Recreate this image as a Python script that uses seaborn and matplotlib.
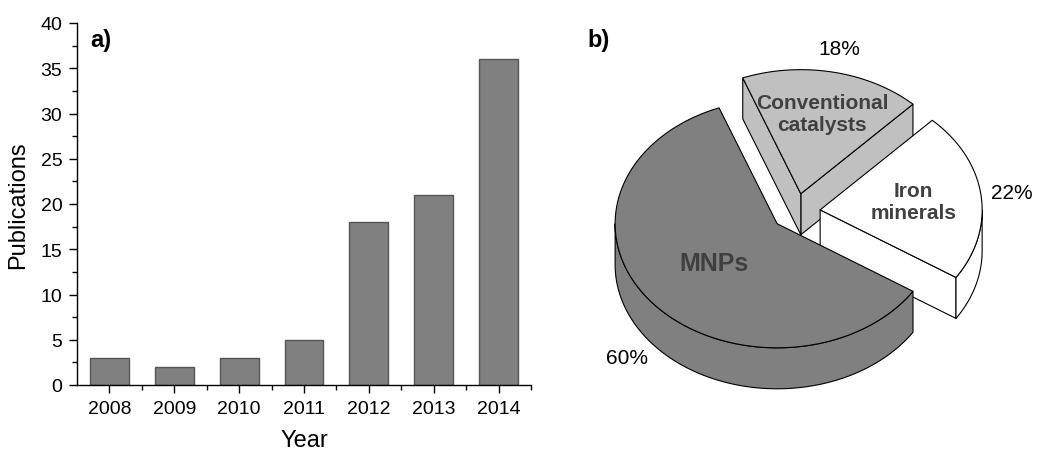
import numpy as np
import matplotlib
matplotlib.use("Agg")
import matplotlib.pyplot as plt
from matplotlib.patches import Polygon
from matplotlib.ticker import MultipleLocator, FixedLocator
import seaborn as sns

# Publications per year
years = ["2008", "2009", "2010", "2011", "2012", "2013", "2014"]
publications = [3, 2, 3, 5, 18, 21, 36]

# Catalyst types studied (share of publications, %)
pie_labels = ["MNPs", "Iron\nminerals", "Conventional\ncatalysts"]
pie_shares = [60, 22, 18]
pie_colors = ["#808080", "#ffffff", "#c0c0c0"]
label_radius = [0.5, 0.58, 0.66]

sns.set_style("ticks")
plt.rcParams["font.family"] = ["Liberation Sans", "DejaVu Sans"]
plt.rcParams["text.color"] = "black"
plt.rcParams["axes.labelcolor"] = "black"

W, H = 1038, 452
fig = plt.figure(figsize=(W / 100, H / 100), dpi=100)

# ---------- a) bar chart ----------
ax1 = fig.add_axes([77 / W, 66 / H, (531 - 77) / W, (386 - 24) / H])
sns.barplot(x=years, y=publications, color="#808080", saturation=1,
            width=0.6, edgecolor="#555555", linewidth=1.0, ax=ax1)
ax1.set_xlim(-0.5, len(years) - 0.5)
ax1.set_ylim(0, 40)
ax1.yaxis.set_major_locator(MultipleLocator(5))
ax1.yaxis.set_minor_locator(MultipleLocator(2.5))
ax1.xaxis.set_minor_locator(FixedLocator(np.arange(0.5, len(years), 1.0)))
for s in ["top", "right"]:
    ax1.spines[s].set_visible(False)
for s in ["left", "bottom"]:
    ax1.spines[s].set_linewidth(1.0)
    ax1.spines[s].set_color("black")
ax1.tick_params(which="major", direction="out", length=6, width=1.0,
                labelsize=14, pad=4.5, colors="black")
ax1.tick_params(which="minor", direction="out", length=3.5, width=1.0,
                colors="black")
ax1.set_xlabel("Year", fontsize=17, labelpad=9, color="black")
ax1.set_ylabel("Publications", fontsize=17, labelpad=8, color="black")
ax1.text(90 / W, 1 - 40 / H, "a)", transform=fig.transFigure,
         fontsize=17, fontweight="bold", va="center", ha="left")

# ---------- b) 3D exploded pie ----------
px = 162.0                      # radius in pixels
cx, cy = 796.0, 213.0           # centre (pixels from top-left)
ax2 = fig.add_axes([560 / W, 0, (W - 560) / W, 1])
ax2.set_xlim((560 - cx) / px, (W - cx) / px)
ax2.set_ylim(-(H - cy) / px, cy / px)
ax2.axis("off")

k = 0.766        # vertical squash of the tilted disc
h = 0.253        # thickness
e = 0.15         # explode distance
start = 111.0
edge_kw = dict(edgecolor="black", linewidth=0.8, joinstyle="round")

def rim(ox, oy, t, dz=0.0):
    t = np.radians(t)
    return ox + np.cos(t), oy + k * np.sin(t) - dz

slices = []
a0 = start
for lab, share, col, lr in zip(pie_labels, pie_shares, pie_colors, label_radius):
    a1 = a0 + share / 100 * 360
    slices.append((lab, share, col, lr, a0, a1))
    a0 = a1

# paint back slices first
order = sorted(slices, key=lambda s: -np.sin(np.radians((s[4] + s[5]) / 2)))
for lab, share, col, lr, t1, t2 in order:
    m = np.radians((t1 + t2) / 2)
    ox, oy = e * np.cos(m), e * k * np.sin(m)

    # radial side faces facing the viewer
    for t, normal in ((t1, t1 - 90), (t2, t2 + 90)):
        if np.sin(np.radians(normal)) < -1e-6:
            rx, ry = rim(ox, oy, t)
            face = [(ox, oy), (rx, ry), (rx, ry - h), (ox, oy - h)]
            ax2.add_patch(Polygon(face, closed=True, facecolor=col, **edge_kw))

    # outer wall on the front half
    for base in (-360, 0, 360):
        lo, hi = max(t1, 180 + base), min(t2, 360 + base)
        if hi > lo:
            tt = np.linspace(lo, hi, 120)
            xs, ys = rim(ox, oy, tt)
            pts = list(zip(xs, ys)) + list(zip(xs[::-1], ys[::-1] - h))
            ax2.add_patch(Polygon(pts, closed=True, facecolor=col, **edge_kw))

    # top face
    tt = np.linspace(t1, t2, 200)
    xs, ys = rim(ox, oy, tt)
    pts = [(ox, oy)] + list(zip(xs, ys))
    ax2.add_patch(Polygon(pts, closed=True, facecolor=col, **edge_kw))

    # category label on the top face
    ax2.text(ox + lr * np.cos(m), oy + lr * k * np.sin(m), lab,
             ha="center", va="center", fontsize=18 if lab == "MNPs" else 15,
             fontweight="bold", color="#404040", linespacing=1.15)

    # percentage outside
    R = 1.34
    ly = R * k * np.sin(m) - (h if np.sin(m) < 0 else 0)
    ax2.text(R * np.cos(m), ly, f"{share}%", ha="center", va="center",
             fontsize=15, color="black")

fig.text(587 / W, 1 - 40 / H, "b)", fontsize=17, fontweight="bold",
         va="center", ha="left")

fig.savefig("out.png", dpi=100)
